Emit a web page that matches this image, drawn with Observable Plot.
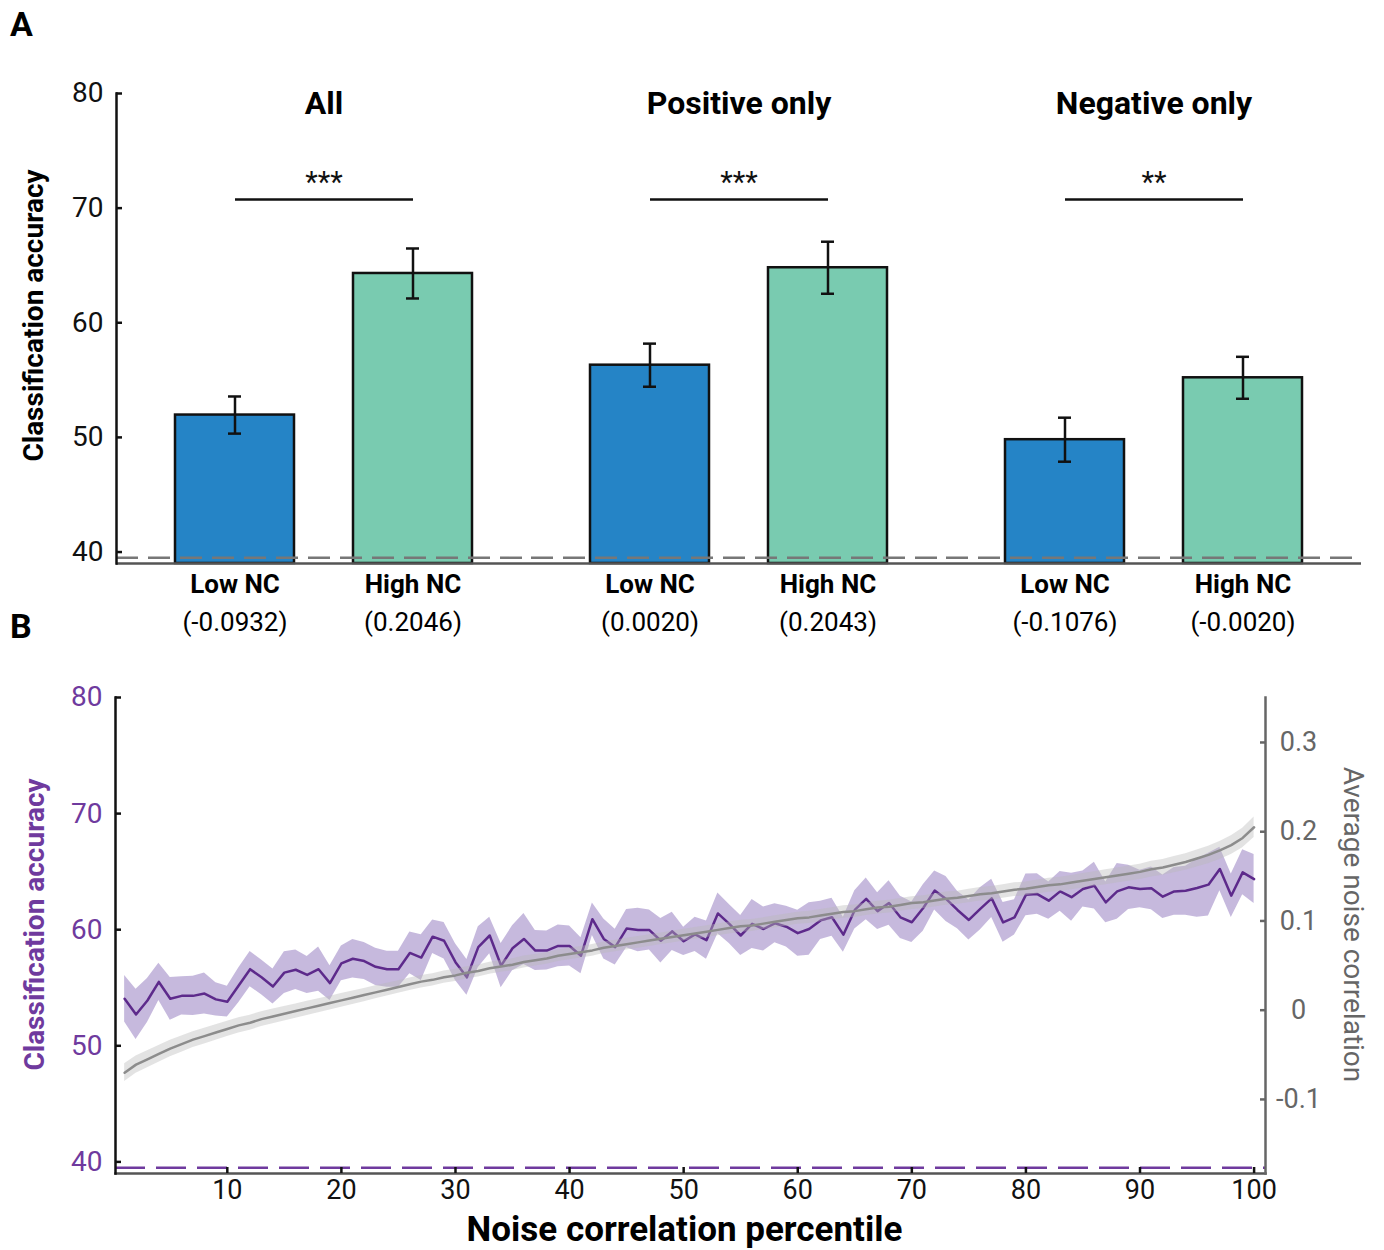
<!DOCTYPE html>
<html><head><meta charset="utf-8">
<script src="https://cdn.jsdelivr.net/npm/d3@7"></script>
<script src="https://cdn.jsdelivr.net/npm/@observablehq/plot@0.6"></script>
<style>
body{margin:0;background:#fff;width:1384px;height:1250px;overflow:hidden;position:relative;font-family:Roboto,"Liberation Sans",sans-serif;}
.panel-label{position:absolute;left:10px;font-weight:bold;font-size:34px;line-height:1;color:#000;}
#A,#B{position:absolute;left:0;}
#A{top:0px} #B{top:645px}
</style></head><body>
<div id="A"></div><div id="B"></div>
<div class="panel-label" style="top:7px">A</div>
<div class="panel-label" style="top:609px">B</div>
<script>
const FONT = 'Roboto,"Liberation Sans",sans-serif';

// ---------- Panel A data ----------
const groups = ["All", "Positive only", "Negative only"];
const conditions = ["Low NC", "High NC"];
const barGroup = ["All", "All", "Positive only", "Positive only", "Negative only", "Negative only"];
const barCondition = ["Low NC", "High NC", "Low NC", "High NC", "Low NC", "High NC"];
const barMean = [51.95, 64.3, 56.3, 64.8, 49.8, 55.2];
const barSE = [1.62, 2.18, 1.88, 2.27, 1.92, 1.83];
const barNC = [-0.0932, 0.2046, 0.0020, 0.2043, -0.1076, -0.0020];
const sigStars = ["***", "***", "**"];
const sigLevel = 70.75;
const chanceLevel = 39.5;
const accTicks = [40, 50, 60, 70, 80];

// ---------- Panel B data ----------
const percentile = [1,2,3,4,5,6,7,8,9,10,11,12,13,14,15,16,17,18,19,20,21,22,23,24,25,26,27,28,29,30,31,32,33,34,35,36,37,38,39,40,41,42,43,44,45,46,47,48,49,50,51,52,53,54,55,56,57,58,59,60,61,62,63,64,65,66,67,68,69,70,71,72,73,74,75,76,77,78,79,80,81,82,83,84,85,86,87,88,89,90,91,92,93,94,95,96,97,98,99,100];
const accMean = [54.05,52.7,53.9,55.5,54.05,54.3,54.3,54.5,54.0,53.8,
55.2,56.6,55.9,55.1,56.3,56.55,56.1,56.6,55.4,57.1,
57.5,57.3,56.8,56.6,56.6,58.0,57.6,59.4,59.05,57.2,
55.9,58.5,59.5,56.9,58.4,59.2,58.2,58.2,58.6,58.6,
57.76,60.9,59.2,58.5,60.1,59.97,59.97,59.05,59.85,59.0,
59.6,59.1,61.4,60.5,59.5,60.5,60.06,60.55,60.26,59.7,
60.06,60.8,61.07,59.57,61.7,62.65,61.6,62.3,61.07,60.64,
61.87,63.37,62.65,61.7,60.84,61.8,62.7,60.63,61.06,63.0,
63.07,62.5,63.3,62.8,63.5,63.79,62.35,63.3,63.65,63.5,
63.56,62.84,63.3,63.36,63.59,63.88,65.23,62.93,64.94,64.36];
const accSE = [2.01,2.16,1.9,1.6,1.84,1.65,1.7,1.77,1.44,1.32,
1.5,1.52,1.5,1.51,1.8,1.7,1.6,1.91,1.5,1.5,
1.65,1.6,1.6,1.55,1.55,1.8,1.97,1.44,1.58,1.58,
1.54,1.75,1.58,1.91,1.94,2.2,1.72,1.68,1.8,1.72,
1.55,1.39,1.72,1.54,1.65,1.87,1.72,1.91,1.65,1.22,
1.47,1.65,1.75,1.68,1.72,2.11,1.9,1.68,1.75,1.98,
2.27,1.65,1.64,1.51,1.65,1.8,1.58,1.91,1.82,1.75,
2.01,1.68,1.94,1.61,1.72,1.82,1.65,1.72,1.51,1.8,
1.75,1.61,1.72,2.07,1.55,2.01,1.75,2.41,1.91,1.61,
1.84,1.87,2.05,2.11,2.51,2.7,1.87,1.87,1.94,2.11];
const ncMean = [-0.070,-0.061,-0.055,-0.049,-0.043,-0.038,-0.033,-0.029,-0.025,-0.021,
-0.017,-0.014,-0.010,-0.007,-0.004,-0.001,0.002,0.005,0.008,0.011,
0.014,0.017,0.020,0.023,0.026,0.029,0.032,0.034,0.037,0.039,
0.042,0.044,0.047,0.049,0.051,0.054,0.056,0.058,0.061,0.063,
0.065,0.067,0.070,0.072,0.074,0.076,0.078,0.080,0.082,0.084,
0.086,0.088,0.090,0.092,0.094,0.095,0.097,0.099,0.101,0.103,
0.104,0.106,0.108,0.110,0.111,0.113,0.115,0.116,0.118,0.120,
0.121,0.123,0.125,0.126,0.128,0.130,0.131,0.133,0.135,0.136,
0.138,0.140,0.141,0.143,0.145,0.147,0.149,0.151,0.153,0.155,
0.158,0.160,0.163,0.166,0.170,0.174,0.179,0.185,0.193,0.205];
const ncSE = [0.0100,0.0098,0.0096,0.0094,0.0092,0.0090,0.0089,0.0088,0.0087,0.0086,
0.0085,0.0084,0.0083,0.0082,0.0081,0.0080,0.0079,0.0078,0.0077,0.0076,
0.0075,0.0074,0.0073,0.0072,0.0071,0.0070,0.0070,0.0069,0.0069,0.0068,
0.0068,0.0067,0.0067,0.0066,0.0066,0.0066,0.0065,0.0065,0.0065,0.0065,
0.0065,0.0065,0.0065,0.0065,0.0065,0.0065,0.0065,0.0065,0.0066,0.0066,
0.0066,0.0066,0.0066,0.0067,0.0067,0.0067,0.0067,0.0068,0.0068,0.0068,
0.0069,0.0069,0.0069,0.0070,0.0070,0.0070,0.0071,0.0071,0.0072,0.0072,
0.0073,0.0073,0.0074,0.0074,0.0075,0.0075,0.0076,0.0076,0.0077,0.0077,
0.0078,0.0079,0.0079,0.0080,0.0081,0.0082,0.0083,0.0084,0.0085,0.0086,
0.0088,0.0089,0.0091,0.0093,0.0095,0.0098,0.0101,0.0105,0.0110,0.0116];
const percentileTicks = [10,20,30,40,50,60,70,80,90,100];
const ncTicks = [-0.1, 0, 0.1, 0.2, 0.3];
const ncDomain = [-0.183, 0.3504];
const accDomain = [39, 80];

// ---------- Colors ----------
const BLUE = "#2584c6", GREEN = "#79cbb0";
const PURPLE_LINE = "#5d2a8b", PURPLE_TEXT = "#6f3a9e", PURPLE_FILL = "#7050aa";
const GRAY_LINE = "#8c8c8c", GRAY_FILL = "#b9b9b9", GRAY_AXIS = "#666666";

// ---------- Panel A ----------
const bars = barMean.map((m, i) => ({group: barGroup[i], cond: barCondition[i], mean: m, se: barSE[i], nc: barNC[i]}));
const sig = groups.map((g, i) => ({group: g, stars: sigStars[i]}));
const fmtNC = v => "(" + v.toFixed(4) + ")";

const plotA = Plot.plot({
  width: 1384, height: 645,
  marginTop: 93, marginBottom: 82, marginLeft: 115, marginRight: 22,
  style: {fontFamily: FONT, background: "white", overflow: "visible", color: "#000"},
  fx: {domain: groups, padding: 0, axis: null},
  x: {domain: conditions, padding: 0.33, axis: null},
  y: {domain: accDomain, axis: null},
  color: {domain: conditions, range: [BLUE, GREEN]},
  marks: [
    Plot.barY(bars, {fx: "group", x: "cond", y1: accDomain[0], y2: "mean", fill: "cond", stroke: "#111", strokeWidth: 2.5}),
    Plot.ruleX(bars, {fx: "group", x: "cond", y1: d => d.mean - d.se, y2: d => d.mean + d.se, stroke: "#111", strokeWidth: 2.5}),
    Plot.tickY(bars, {fx: "group", x: "cond", y: d => d.mean + d.se, stroke: "#111", strokeWidth: 2.5, insetLeft: 53, insetRight: 53}),
    Plot.tickY(bars, {fx: "group", x: "cond", y: d => d.mean - d.se, stroke: "#111", strokeWidth: 2.5, insetLeft: 53, insetRight: 53}),
    Plot.ruleY([accDomain[0]], {stroke: "#555", strokeWidth: 2.5}),
    Plot.ruleY([chanceLevel], {stroke: "#777", strokeWidth: 2.5, strokeDasharray: "22,10"}),
    Plot.link(sig, {fx: "group", x1: () => conditions[0], x2: () => conditions[1], y1: sigLevel, y2: sigLevel, stroke: "#111", strokeWidth: 2.5}),
    Plot.text(sig, {fx: "group", text: "stars", y: sigLevel, dy: -17, fontSize: 29, fill: "#111"}),
    Plot.text(sig, {fx: "group", text: "group", frameAnchor: "top", lineAnchor: "middle", dy: 10, fontSize: 32, fontWeight: "bold", fill: "#000"}),
    Plot.text(bars, {fx: "group", x: "cond", y: accDomain[0], text: "cond", dy: 21, fontSize: 26, fontWeight: "bold", fill: "#000"}),
    Plot.text(bars, {fx: "group", x: "cond", y: accDomain[0], text: d => fmtNC(d.nc), dy: 59, fontSize: 26, fill: "#000"}),
    Plot.frame({anchor: "left", facetAnchor: "left", stroke: "#111", strokeWidth: 2.5}),
    Plot.axisY(accTicks, {anchor: "left", tickSize: -6, tickPadding: 19, fontSize: 28, color: "#111", strokeWidth: 2.5, label: null}),
    Plot.text([{group: "All"}], {fx: "group", text: () => "Classification accuracy", frameAnchor: "left", textAnchor: "middle", lineAnchor: "middle", rotate: -90, dx: -82, dy: -13, fontSize: 28, fontWeight: "bold", fill: "#000"})
  ]
});
document.getElementById("A").appendChild(plotA);

// ---------- Panel B ----------
const toAcc = d3.scaleLinear(ncDomain, accDomain);
const rowsB = percentile.map((p, i) => ({p, acc: accMean[i], se: accSE[i], nc: ncMean[i], ncse: ncSE[i]}));
const fmtRight = v => { const n = Math.round(toAcc.invert(v) * 10) / 10; return n === 0 ? "0" : String(n); };

const plotB = Plot.plot({
  width: 1384, height: 605,
  marginTop: 52, marginBottom: 77, marginLeft: 115, marginRight: 119,
  style: {fontFamily: FONT, background: "white", overflow: "visible", color: "#000"},
  x: {domain: [0.2, 101], axis: null},
  y: {domain: accDomain, axis: null},
  marks: [
    Plot.areaY(rowsB, {x: "p", y1: d => d.acc - d.se, y2: d => d.acc + d.se, fill: PURPLE_FILL, fillOpacity: 0.4}),
    Plot.lineY(rowsB, {x: "p", y: "acc", stroke: PURPLE_LINE, strokeWidth: 2.5}),
    Plot.areaY(rowsB, {x: "p", y1: d => toAcc(d.nc - d.ncse), y2: d => toAcc(d.nc + d.ncse), fill: GRAY_FILL, fillOpacity: 0.4}),
    Plot.lineY(rowsB, {x: "p", y: d => toAcc(d.nc), stroke: GRAY_LINE, strokeWidth: 2.5}),
    Plot.ruleY([chanceLevel], {stroke: PURPLE_TEXT, strokeWidth: 2.5, strokeDasharray: "30,11"}),
    Plot.frame({anchor: "bottom", stroke: "#555", strokeWidth: 2.5}),
    Plot.frame({anchor: "left", stroke: "#111", strokeWidth: 2.5}),
    Plot.frame({anchor: "right", stroke: GRAY_AXIS, strokeWidth: 2.5}),
    Plot.axisY(accTicks, {anchor: "left", tickSize: -6, tickFormat: () => "", color: "#111", strokeWidth: 2.5, label: null}),
    Plot.axisY(accTicks, {anchor: "left", tickSize: 0, tickPadding: 13, fontSize: 28, color: PURPLE_TEXT, label: null}),
    Plot.axisY(ncTicks.map(toAcc), {anchor: "right", tickSize: -6, tickPadding: 39, textAnchor: "middle", tickFormat: fmtRight, fontSize: 27, color: GRAY_AXIS, strokeWidth: 2.5, label: null}),
    Plot.axisX(percentileTicks, {anchor: "bottom", tickSize: -6, tickPadding: 12, fontSize: 27, color: "#111", strokeWidth: 2.5, label: null}),
    Plot.text(["Classification accuracy"], {text: d => d, frameAnchor: "left", textAnchor: "middle", lineAnchor: "middle", rotate: -90, dx: -80, dy: -11, fontSize: 28, fontWeight: "bold", fill: PURPLE_TEXT}),
    Plot.text(["Average noise correlation"], {text: d => d, frameAnchor: "right", textAnchor: "middle", lineAnchor: "middle", rotate: 90, dx: 87, dy: -11, fontSize: 28, fill: GRAY_AXIS}),
    Plot.text(["Noise correlation percentile"], {text: d => d, frameAnchor: "bottom", lineAnchor: "middle", dx: -6, dy: 56, fontSize: 35, fontWeight: "bold", fill: "#000"})
  ]
});
document.getElementById("B").appendChild(plotB);
</script>
</body></html>
